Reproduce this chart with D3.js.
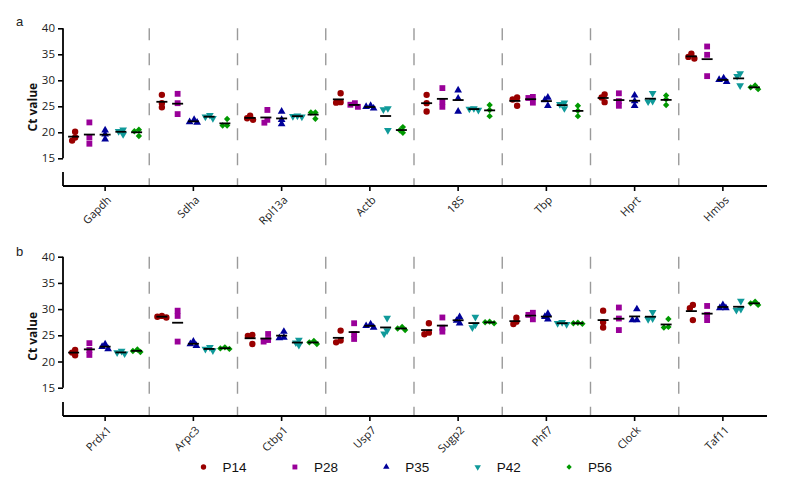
<!DOCTYPE html>
<html><head><meta charset="utf-8">
<script src="https://cdn.jsdelivr.net/npm/d3@7"></script>
<style>body{margin:0;background:#fff}svg{display:block}</style>
</head><body>
<svg id="chart" width="787" height="483"></svg>
<script>
const genesA = ["Gapdh","Sdha","Rpl13a","Actb","18S","Tbp","Hprt","Hmbs"];
const genesB = ["Prdx1","Arpc3","Ctbp1","Usp7","Sugp2","Phf7","Clock","Taf11"];
const seriesNames = ["P14","P28","P35","P42","P56"];
const yTicks = [15,20,25,30,35,40];

// Panel a: replicate Ct values per gene
const P14_a = [[20.1,19.0,18.4],[27.2,25.6,24.8],[23.2,22.7,22.4],[27.5,25.7,25.8],[27.2,25.6,24.0],[26.7,26.3,25.1],[27.3,26.7,25.8],[35.1,34.5,34.2]];
const P28_a = [[21.9,19.0,17.8],[27.4,25.6,23.5],[24.3,22.4,21.85],[25.6,25.3,24.9],[28.5,25.9,24.9],[26.8,26.6,25.7],[27.5,26.0,25.1],[36.5,34.9,30.8]];
const P35_a = [[20.4,19.6,18.65],[22.4,21.9,22.0],[24.0,22.4,21.6],[25.1,24.9,24.6],[28.1,26.5,24.0],[26.7,26.2,25.1],[27.1,26.0,25.1],[30.4,30.1,29.7]];
const P42_a = [[20.5,20.2,19.6],[23.3,23.0,22.7],[23.2,23.1,23.0],[24.6,24.4,20.4],[24.6,24.5,24.3],[25.7,25.4,24.6],[27.5,26.0,25.9],[31.3,30.8,29.0]];
const P56_a = [[20.5,20.2,19.3],[22.55,21.3,21.3],[23.8,23.8,22.6],[21.0,20.4,19.9],[25.25,24.3,23.1],[25.1,24.15,23.1],[27.1,26.35,25.25],[29.0,28.65,28.3]];

// Panel b
const P14_b = [[22.2,21.7,21.2],[28.7,28.55,28.4],[25.05,24.9,23.35],[25.9,24.0,23.65],[27.3,25.5,25.2],[28.35,27.6,27.15],[29.7,27.5,26.5],[30.8,30.15,27.9]];
const P28_b = [[23.5,22.2,21.25],[29.7,28.7,23.8],[25.25,24.1,23.8],[27.3,25.25,24.3],[28.4,26.45,25.7],[29.3,28.9,28.05],[30.3,28.2,26.0],[30.6,28.9,27.9]];
const P35_b = [[23.3,22.8,22.4],[23.8,23.35,23.0],[25.7,24.6,24.5],[27.1,26.8,26.5],[28.5,27.8,27.3],[29.1,28.55,28.05],[30.0,27.9,27.9],[30.8,30.2,30.2]];
const P42_b = [[22.0,21.7,21.5],[22.7,22.4,22.1],[24.1,23.6,23.15],[28.3,25.9,25.3],[28.5,27.0,26.5],[27.5,27.3,27.1],[29.4,28.2,28.05],[31.55,30.0,29.8]];
const P56_b = [[22.3,22.0,21.8],[22.7,22.5,22.4],[23.9,23.65,23.35],[26.6,26.3,26.0],[27.6,27.5,27.3],[27.4,27.3,27.2],[28.1,26.6,26.5],[31.4,31.1,30.8]];

const colors = ["#990000","#990099","#000099","#109a9a","#009900"];
const symbols = [
  {type:d3.symbolCircle, size:32, rot:0},
  {type:d3.symbolSquare, size:34, rot:0},
  {type:d3.symbolTriangle, size:26, rot:0},
  {type:d3.symbolTriangle, size:26, rot:180},
  {type:d3.symbolDiamond2, size:26, rot:0}
];

const svg = d3.select("#chart");
const FONT = "'Open Sans', sans-serif";

function panel(cfg){
  const {genes, data, yTop, yBottom, axisY, letter, letterY} = cfg;
  const g = svg.append("g");
  const x = d3.scaleBand().domain(genes).range([61, 767]);
  const sub = d3.scalePoint().domain(seriesNames).range([-31.5, 31.5]);
  const y = d3.scaleLinear().domain([15,40]).range([yBottom, yTop]);
  const xAxisLeft = 63;

  // separators
  genes.slice(1).forEach(gn => {
    const xs = x(gn);
    g.append("line").attr("x1",xs).attr("x2",xs).attr("y1",yTop).attr("y2",axisY)
      .attr("stroke","#9a9a9a").attr("stroke-width",1.4).attr("stroke-dasharray","12,13");
  });

  // y axis
  const ya = g.append("g").attr("transform",`translate(${xAxisLeft},0)`)
    .call(d3.axisLeft(y).tickValues(yTicks).tickSize(5).tickPadding(3));
  ya.select(".domain").attr("stroke","#000").attr("stroke-width",1.8).attr("d",`M0,${yTop}V${yBottom}`);
  ya.selectAll(".tick line").attr("stroke","#000").attr("stroke-width",1.6);
  ya.selectAll(".tick text").attr("font-family",FONT).attr("font-size",11.5).attr("fill","#222");
  g.append("line").attr("x1",xAxisLeft).attr("x2",xAxisLeft).attr("y1",axisY-14).attr("y2",axisY)
    .attr("stroke","#000").attr("stroke-width",1.8);

  // x axis
  const xa = g.append("g").attr("transform",`translate(0,${axisY})`)
    .call(d3.axisBottom(x).tickSize(5).tickSizeOuter(0));
  xa.select(".domain").attr("stroke","#000").attr("stroke-width",1.8).attr("d",`M${xAxisLeft},0H767`);
  xa.selectAll(".tick line").attr("stroke","#000").attr("stroke-width",1.6);
  xa.selectAll(".tick text").attr("font-family",FONT).attr("font-size",11).attr("fill","#222")
    .attr("text-anchor","end").attr("dy","0.35em")
    .attr("transform","translate(4,12) rotate(-45)").attr("y",0).attr("x",0);

  // y label
  g.append("text").attr("transform",`translate(37,${(yTop+axisY)/2}) rotate(-90)`)
    .attr("text-anchor","middle").attr("font-family",FONT).attr("font-weight","bold")
    .attr("font-size",12).attr("fill","#111").text("Ct value");
  g.append("text").attr("x",16).attr("y",letterY).attr("font-family","'Liberation Sans', Arial, sans-serif")
    .attr("font-size",13).attr("fill","#222").text(letter);

  // points
  const minDist = 3.8;
  data.forEach((ser, si) => {
    const sym = d3.symbol().type(symbols[si].type).size(symbols[si].size);
    ser.forEach((vals, gi) => {
      const cx = x(genes[gi]) + x.bandwidth()/2 + sub(seriesNames[si]);
      // beeswarm placement
      const pts = vals.map(v => ({v, py: y(v)})).sort((a,b)=>a.py-b.py);
      const placed = [];
      pts.forEach(p => {
        const cands = [0,-3,3,-4.5,4.5];
        for (const c of cands){
          const ok = placed.every(q => Math.hypot(q.dx - c, q.py - p.py) >= minDist);
          if (ok){ p.dx = c; break; }
        }
        if (p.dx === undefined) p.dx = 0;
        placed.push(p);
      });
      const shift = placed.length ? -(d3.min(placed,d=>d.dx)+d3.max(placed,d=>d.dx))/2 : 0;
      placed.forEach(p => {
        g.append("path").attr("d", sym())
          .attr("transform",`translate(${cx+p.dx+shift},${p.py}) rotate(${symbols[si].rot})`)
          .attr("fill",colors[si]);
      });
      const m = d3.mean(vals);
      g.append("line").attr("x1",cx-5.5).attr("x2",cx+5.5).attr("y1",y(m)).attr("y2",y(m))
        .attr("stroke","#000").attr("stroke-width",1.8);
    });
  });
}

panel({genes:genesA, data:[P14_a,P28_a,P35_a,P42_a,P56_a], yTop:28.3, yBottom:158.3, axisY:186, letter:"a", letterY:26});
panel({genes:genesB, data:[P14_b,P28_b,P35_b,P42_b,P56_b], yTop:256.7, yBottom:387.7, axisY:416, letter:"b", letterY:256});

// legend
const leg = svg.append("g");
seriesNames.forEach((s,i) => {
  const lx = 203.5 + i*91.4;
  leg.append("path").attr("d", d3.symbol().type(symbols[i].type).size(symbols[i].size*0.7)())
    .attr("transform",`translate(${lx},467) rotate(${symbols[i].rot})`).attr("fill",colors[i]);
  leg.append("text").attr("x",lx+19).attr("y",467).attr("dy","0.35em")
    .attr("font-family","'Liberation Sans', Arial, sans-serif").attr("font-size",13.5)
    .attr("fill","#111").text(s);
});
</script>
</body></html>
